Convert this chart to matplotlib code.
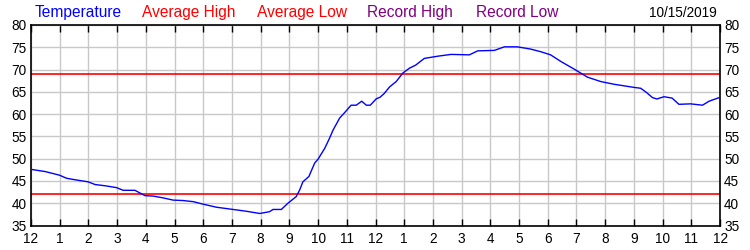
import matplotlib
matplotlib.use("Agg")
import matplotlib.pyplot as plt

hours = [0, 0.5, 0.99, 1.24, 1.5, 1.99, 2.23, 2.6, 2.98, 3.21, 3.62, 3.97, 4.26, 4.6, 4.95,
         5.3, 5.65, 5.99, 6.46, 7.04, 7.5, 7.97, 8.31, 8.43, 8.72, 8.95, 9.24, 9.36, 9.47,
         9.68, 9.88, 10.0, 10.23, 10.4, 10.52, 10.75, 10.92, 11.15, 11.33, 11.52, 11.68,
         11.82, 12.02, 12.16, 12.3, 12.49, 12.72, 12.95, 13.18, 13.4, 13.7, 14.17, 14.63,
         15.27, 15.56, 16.14, 16.49, 16.94, 17.4, 17.76, 18.1, 18.46, 18.92, 19.38, 19.85,
         20.31, 21.0, 21.24, 21.45, 21.65, 21.8, 22.05, 22.33, 22.57, 22.98, 23.39, 23.62, 23.97]
temps = [47.6, 47.1, 46.3, 45.6, 45.3, 44.8, 44.2, 43.9, 43.5, 42.9, 42.9, 41.7, 41.6, 41.2, 40.7,
         40.6, 40.35, 39.8, 39.1, 38.6, 38.2, 37.7, 38.1, 38.6, 38.6, 40.0, 41.5, 43.0, 44.8,
         46.0, 49.0, 49.9, 52.3, 54.6, 56.4, 59.1, 60.3, 62.0, 62.0, 62.9, 62.0,
         62.0, 63.4, 63.8, 64.6, 66.1, 67.3, 69.2, 70.3, 71.0, 72.5, 73.0, 73.4,
         73.3, 74.2, 74.3, 75.1, 75.1, 74.6, 74.0, 73.3, 71.8, 70.1, 68.3, 67.3,
         66.7, 66.0, 65.8, 64.8, 63.7, 63.4, 63.9, 63.6, 62.2, 62.3, 62.0, 62.9, 63.7]
avg_high = 69
avg_low = 42
x_ticks = list(range(0, 25))
x_labels = ["12"] + [str(h) for h in range(1, 12)] + ["12"] + [str(h) for h in range(1, 12)] + ["12"]
y_ticks = list(range(35, 81, 5))
legend_items = [("Temperature", "#0000ff"), ("Average High", "#ff0000"), ("Average Low", "#ff0000"),
                ("Record High", "#800080"), ("Record Low", "#800080")]
legend_x = [35, 142, 257, 367, 476]
date_text = "10/15/2019"

plt.rcParams['font.family'] = ['Liberation Sans', 'DejaVu Sans']
fig = plt.figure(figsize=(7.5, 2.5), dpi=100)
ax = fig.add_axes([31/750, 1-225.5/250, 689/750, 200.5/250])
ax.plot(hours, temps, color="#0000ff", lw=1.0, zorder=3)
ax.axhline(avg_high, color="#ff0000", lw=1.2, zorder=2)
ax.axhline(avg_low, color="#ff0000", lw=1.2, zorder=2)
ax.set_xlim(0, 24)
ax.set_ylim(35, 80)
ax.set_xticks(x_ticks)
ax.set_xticklabels(x_labels)
ax.set_yticks(y_ticks)
ax.grid(True, color="#c8c8c8", lw=1.0, zorder=0)
ax.set_axisbelow(True)
ax.tick_params(axis='x', direction='in', length=5, width=1, top=True, bottom=True,
               labelsize=9.8, pad=5, color='black')
ax.tick_params(axis='y', length=0, labelsize=9.8, left=True, right=True,
               labelleft=True, labelright=True, pad=3)
for s in ax.spines.values():
    s.set_linewidth(1.2)
    s.set_color('black')
for (txt, col), xp in zip(legend_items, legend_x):
    fig.text(xp/750, 1-17/250, txt, color=col, fontsize=11.2, va='baseline', ha='left')
fig.text(717/750, 1-17/250, date_text, color='black', fontsize=9.8, va='baseline', ha='right')
fig.savefig("out.png", dpi=100)
